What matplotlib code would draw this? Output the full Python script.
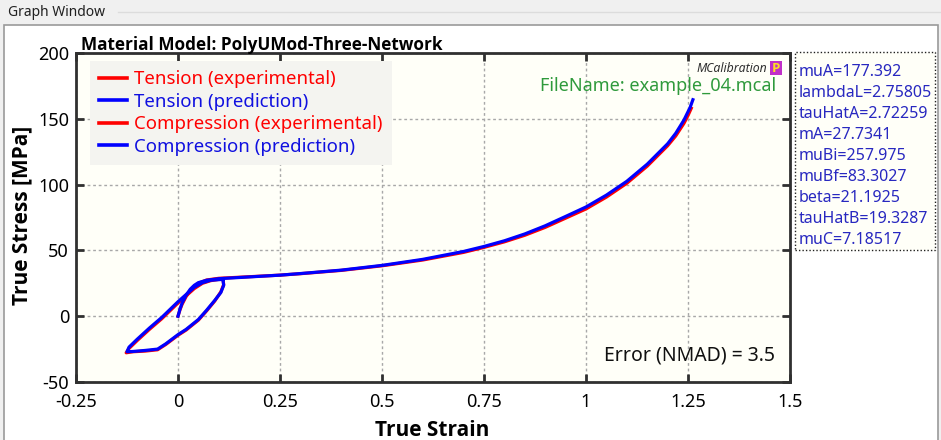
import matplotlib
matplotlib.use("Agg")
import matplotlib.pyplot as plt
from matplotlib.patches import Rectangle
from matplotlib.lines import Line2D

# ---------------- data ----------------
tension_strain_exp = [0.0, 0.005, 0.01, 0.02, 0.03, 0.04, 0.05, 0.07, 0.1, 0.15, 0.2, 0.25, 0.3,
                      0.4, 0.5, 0.6, 0.7, 0.75, 0.8, 0.85, 0.9, 0.95, 1.0, 1.05, 1.1,
                      1.15, 1.2, 1.22, 1.24, 1.25, 1.258]
tension_stress_exp = [0.0, 5.0, 9.0, 15.0, 19.5, 22.5, 25.0, 27.5, 28.8, 29.6, 30.4, 31.2, 32.3,
                      34.8, 38.3, 42.7, 48.5, 52.3, 56.5, 61.5, 67.5, 74.5, 81.5, 90.5, 101.0,
                      114.0, 129.5, 137.0, 146.5, 152.5, 158.0]
tension_strain_pred = [0.0, 0.005, 0.01, 0.02, 0.03, 0.04, 0.05, 0.07, 0.1, 0.15, 0.2, 0.25, 0.3,
                       0.4, 0.5, 0.6, 0.7, 0.75, 0.8, 0.85, 0.9, 0.95, 1.0, 1.05, 1.1,
                       1.15, 1.2, 1.22, 1.24, 1.255, 1.262]
tension_stress_pred = [0.0, 5.5, 10.0, 16.0, 20.5, 23.5, 25.5, 27.3, 28.5, 29.4, 30.3, 31.2, 32.4,
                       35.0, 38.6, 43.2, 49.2, 53.0, 57.3, 62.5, 68.7, 75.8, 83.0, 92.0, 102.5,
                       115.5, 131.0, 139.0, 149.0, 158.5, 164.5]

compression_strain_exp = [0.11, 0.112, 0.105, 0.09, 0.07, 0.05, 0.02, 0.0, -0.03, -0.05, -0.08,
                          -0.11, -0.127, -0.12, -0.1, -0.07, -0.04, 0.0, 0.02, 0.04, 0.06,
                          0.08, 0.11]
compression_stress_exp = [28.5, 24.0, 18.5, 11.5, 4.0, -3.0, -10.5, -14.5, -21.5, -25.5, -26.5,
                          -27.0, -27.8, -24.5, -18.5, -10.0, -2.0, 10.0, 15.5, 21.0, 25.0,
                          27.0, 28.5]
compression_strain_pred = [0.11, 0.112, 0.105, 0.09, 0.07, 0.05, 0.02, 0.0, -0.03, -0.05, -0.08,
                           -0.11, -0.125, -0.12, -0.1, -0.07, -0.04, 0.0, 0.02, 0.04, 0.06,
                           0.08, 0.11]
compression_stress_pred = [28.0, 23.5, 18.0, 12.0, 4.5, -2.5, -10.0, -14.0, -21.0, -25.0, -26.0,
                           -26.8, -27.0, -23.5, -17.5, -9.0, -1.0, 11.0, 16.5, 22.0, 25.5,
                           27.3, 28.0]

x_ticks = [-0.25, 0, 0.25, 0.5, 0.75, 1, 1.25, 1.5]
x_tick_labels = ["-0.25", "0", "0.25", "0.5", "0.75", "1", "1.25", "1.5"]
y_ticks = [-50, 0, 50, 100, 150, 200]
y_tick_labels = ["-50", "0", "50", "100", "150", "200"]

param_names = ["muA", "lambdaL", "tauHatA", "mA", "muBi", "muBf", "beta", "tauHatB", "muC"]
param_values = ["177.392", "2.75805", "2.72259", "27.7341", "257.975", "83.3027", "21.1925",
                "19.3287", "7.18517"]

legend_labels = ["Tension (experimental)", "Tension (prediction)",
                 "Compression (experimental)", "Compression (prediction)"]

# ---------------- figure ----------------
W, H = 941, 440
plt.rcParams['font.family'] = ['Noto Sans', 'DejaVu Sans']
BOLD = ['Open Sans', 'DejaVu Sans']
fig = plt.figure(figsize=(W / 100, H / 100), dpi=100)
fig.patch.set_facecolor('#f0f0f0')


def fx(px):
    return px / W


def fy(py):
    return 1 - py / H


# window panel
fig.patches.append(Rectangle((fx(3.5), fy(445)), fx(934), fy(25.5) - fy(445),
                             transform=fig.transFigure, facecolor='white',
                             edgecolor='#9a9a9a', linewidth=1.2, zorder=-5))
fig.lines.append(Line2D([fx(118), fx(941)], [fy(12), fy(12)], transform=fig.transFigure,
                        color='#dcdcdc', linewidth=1, zorder=-5))
fig.text(fx(8), fy(12), "Graph Window", fontsize=10, va='center', ha='left', color='#202020')

ax = fig.add_axes([fx(76), fy(382), fx(790) - fx(76), fy(53) - fy(382)])
ax.set_zorder(1)
ax.set_facecolor('#fffff8')

red = '#ff0000'
blue = '#0000ff'
LW = 2.3
ax.plot(tension_strain_exp, tension_stress_exp, color=red, lw=LW, zorder=3)
ax.plot(compression_strain_exp, compression_stress_exp, color=red, lw=LW, zorder=3)
ax.plot(tension_strain_pred, tension_stress_pred, color=blue, lw=LW, zorder=4)
ax.plot(compression_strain_pred, compression_stress_pred, color=blue, lw=LW, zorder=4)

ax.set_xlim(-0.25, 1.5)
ax.set_ylim(-50, 200)
ax.set_xticks(x_ticks)
ax.set_xticklabels(x_tick_labels)
ax.set_yticks(y_ticks)
ax.set_yticklabels(y_tick_labels)
ax.grid(True, color='#a8a8a8', linestyle=(0, (2, 2)), linewidth=1)
ax.set_axisbelow(True)
ax.tick_params(direction='in', length=6, width=2, color='#303030',
               top=True, right=True, labelsize=13)
ax.tick_params(axis='x', pad=8)
ax.tick_params(axis='y', pad=5)
for lab in ax.get_xticklabels() + ax.get_yticklabels():
    lab.set_family(['Liberation Sans Narrow', 'Noto Sans', 'DejaVu Sans'])
for s in ax.spines.values():
    s.set_linewidth(2)
    s.set_color('#303030')

ax.set_xlabel("True Strain", fontsize=15, fontweight='bold', family=BOLD)
ax.set_ylabel("True Stress [MPa]", fontsize=15, fontweight='bold', family=BOLD)
ax.xaxis.set_label_coords((432 - 76) / 714, (382 - 430) / 329)
ax.yaxis.set_label_coords((22 - 76) / 714, (382 - 215) / 329)
ax.xaxis.label.set_va('center')
ax.yaxis.label.set_va('center')

# legend
handles = [Line2D([], [], color=red, lw=2.6), Line2D([], [], color=blue, lw=2.6),
           Line2D([], [], color=red, lw=2.6), Line2D([], [], color=blue, lw=2.6)]
leg = ax.legend(handles, legend_labels, loc='upper left',
                bbox_to_anchor=((90 - 76) / 714, (382 - 61) / 329),
                borderaxespad=0, fontsize=13.4, frameon=True, fancybox=False,
                handlelength=1.5, handletextpad=0.35, labelspacing=0.24,
                borderpad=0.5, labelcolor=[red, '#1010e0', red, '#1010e0'])
leg.get_frame().set_facecolor('#f4f4f0')
leg.get_frame().set_edgecolor('none')
leg.get_frame().set_alpha(1)

# title
fig.text(fx(81), fy(45), "Material Model: PolyUMod-Three-Network", fontsize=12.3,
         fontweight='bold', family=BOLD, ha='left', va='center', color='black')

# file name
fig.text(fx(776), fy(86), "FileName: example_04.mcal", fontsize=13, ha='right',
         va='center', color='#2f9a3c', zorder=5)

# logo
fig.text(fx(767), fy(68), "MCalibration", fontsize=8.8, style='italic',
         ha='right', va='center', color='#303030', zorder=5)
fig.patches.append(Rectangle((fx(770), fy(75)), fx(11.5), fy(61) - fy(75),
                             transform=fig.transFigure, facecolor='#c030c8',
                             edgecolor='none', zorder=5))
fig.text(fx(775.8), fy(68), "P", fontsize=9.5, fontweight='bold', family=BOLD,
         ha='center', va='center', color='#ffe020', zorder=6)

# error
fig.text(fx(775), fy(355), "Error (NMAD) = 3.5", fontsize=14, ha='right', va='center',
         color='#101010', zorder=5)

# parameter box
fig.patches.append(Rectangle((fx(795), fy(250.5)), fx(935) - fx(795), fy(52.5) - fy(250.5),
                             transform=fig.transFigure, facecolor='#fffff8',
                             edgecolor='#202020', linewidth=1, linestyle=(0, (1, 1.5)),
                             zorder=1))
for i, (n, v) in enumerate(zip(param_names, param_values)):
    fig.text(fx(799), fy(72 + i * 21), f"{n}={v}", fontsize=11.5, ha='left', va='center',
             color='#2828c0')

fig.savefig("out.png", dpi=100, facecolor=fig.get_facecolor())
